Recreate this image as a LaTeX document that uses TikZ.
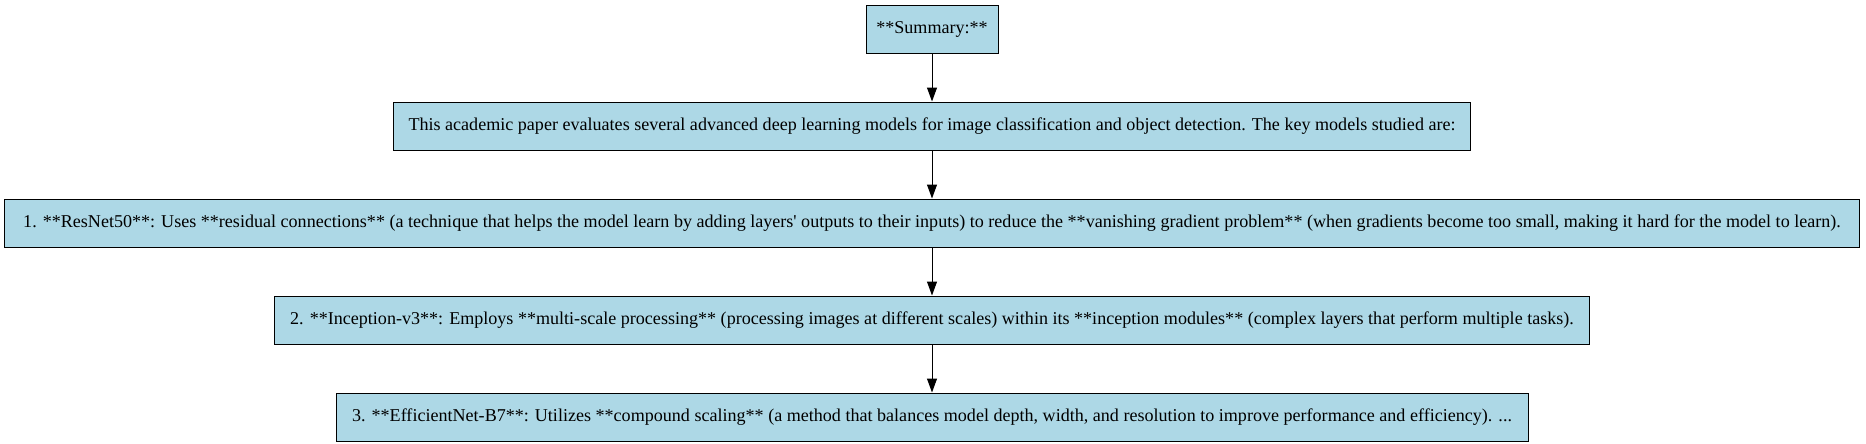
\documentclass[tikz,border=0pt]{standalone}
\usepackage{fontspec}
\setmainfont{Liberation Serif}
\usepackage{tikz}
\usetikzlibrary{positioning,arrows.meta}
\definecolor{boxblue}{HTML}{ADD8E6}
\tikzset{
  stepbox/.style={draw=black,fill=boxblue,line width=0.75pt,minimum height=36pt,inner sep=0pt,font=\fontsize{13.55pt}{16pt}\selectfont},
  link/.style={line width=0.75pt,-{Triangle[length=10.5pt,width=7.5pt]}}
}
\begin{document}
\begin{tikzpicture}[node distance=36pt]
\useasboundingbox (0,0) rectangle (1399.5pt,-332.25pt);
\node[stepbox,minimum width=99pt] (sum) at (699pt,-21.75pt) {**Summary:**};
\node[stepbox,minimum width=807.75pt,below=of sum] (intro) {This academic paper evaluates several advanced deep learning models for image classification and object detection. The key models studied are:};
\node[stepbox,minimum width=1391.25pt,below=of intro] (resnet) {1. **ResNet50**: Uses **residual connections** (a technique that helps the model learn by adding layers\textquotesingle{} outputs to their inputs) to reduce the **vanishing gradient problem** (when gradients become too small, making it hard for the model to learn).};
\node[stepbox,minimum width=986.25pt,below=of resnet] (incep) {2. **Inception-v3**: Employs **multi-scale processing** (processing images at different scales) within its **inception modules** (complex layers that perform multiple tasks).};
\node[stepbox,minimum width=894pt,below=of incep] (effnet) {3. **EfficientNet-B7**: Utilizes **compound scaling** (a method that balances model depth, width, and resolution to improve performance and efficiency). ...};
\draw[link] (sum) -- (intro);
\draw[link] (intro) -- (resnet);
\draw[link] (resnet) -- (incep);
\draw[link] (incep) -- (effnet);
\end{tikzpicture}
\end{document}
